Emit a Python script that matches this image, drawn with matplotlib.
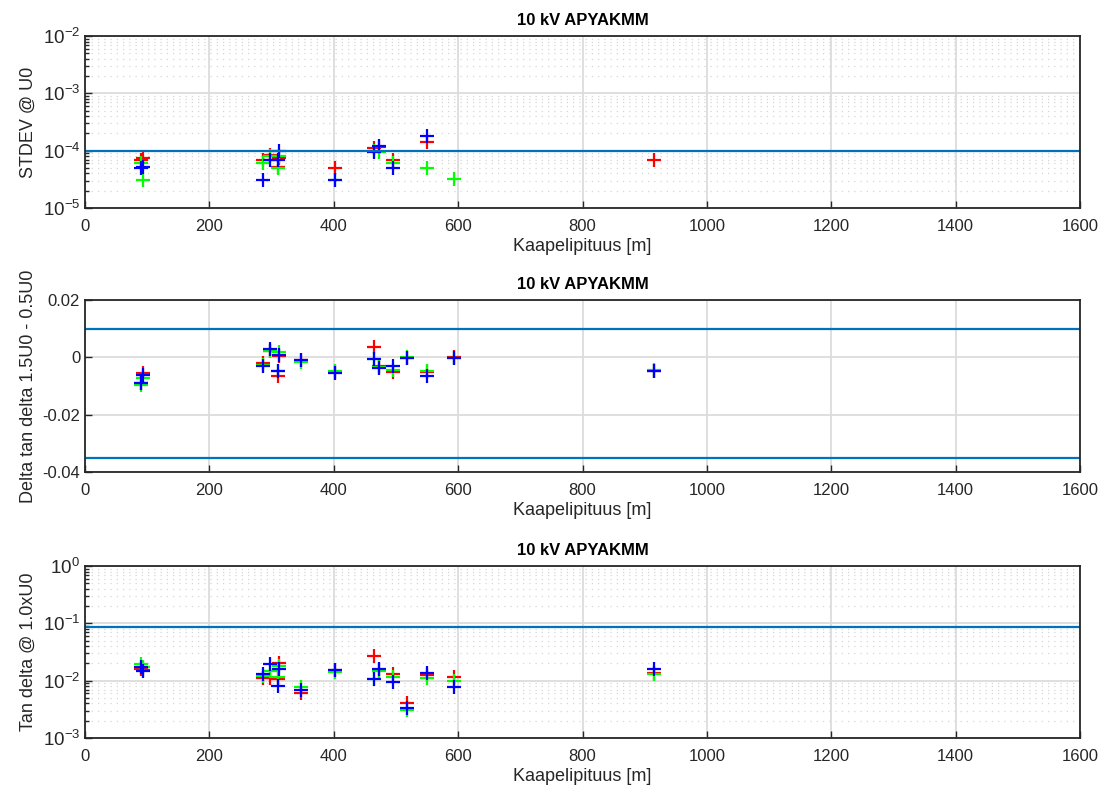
import matplotlib
matplotlib.use('Agg')
import matplotlib.pyplot as plt
import numpy as np

plt.rcParams['font.family'] = ['Liberation Sans', 'DejaVu Sans']
plt.rcParams['mathtext.fontset'] = 'custom'
plt.rcParams['mathtext.rm'] = 'Liberation Sans'

nan = np.nan
length = [90.5, 93.8, 286, 297, 311, 312, 347, 402, 464, 472, 496, 518, 550, 594, 915]

# STDEV @ U0
std_r = [6.9e-5, 7.5e-5, 7.0e-5, 8.4e-5, 5.1e-5, 7.5e-5, nan, 5.05e-5, 1.13e-4, 1.15e-4, 6.9e-5, nan, 1.4e-4, nan, 7.0e-5]
std_g = [6.0e-5, 3.1e-5, 6.0e-5, 8.0e-5, 4.9e-5, 8.1e-5, nan, 3.1e-5, 1.0e-4, 9.6e-5, 6.0e-5, nan, 5.05e-5, 3.15e-5, nan]
std_b = [5.05e-5, 5.2e-5, 3.1e-5, 6.9e-5, 7.0e-5, 1.0e-4, nan, 3.1e-5, 9.6e-5, 1.2e-4, 5.05e-5, nan, 1.82e-4, nan, nan]

# Delta tan delta 1.5U0 - 0.5U0
dtd_r = [-0.0091, -0.0056, -0.0019, 0.0022, -0.0064, 0.0006, -0.0010, -0.0051, 0.0037, -0.0030, -0.0050, -0.0002, -0.0052, 0.0002, -0.0046]
dtd_g = [-0.0098, -0.0071, -0.0025, 0.0022, -0.0048, 0.0019, -0.0015, -0.0048, -0.0005, -0.0033, -0.0044, 0.0002, -0.0048, -0.0001, -0.0044]
dtd_b = [-0.0088, -0.0062, -0.0029, 0.0029, -0.0048, 0.0009, -0.0009, -0.0056, -0.0007, -0.0036, -0.0029, -0.0004, -0.0064, -0.0004, -0.0047]

# Tan delta @ 1.0xU0
td_r = [0.016, 0.0155, 0.0113, 0.011, 0.0107, 0.020, 0.0062, 0.0153, 0.0273, 0.0155, 0.0132, 0.0040, 0.0128, 0.0116, 0.0135]
td_g = [0.0195, 0.017, 0.012, 0.0145, 0.0115, 0.0183, 0.0077, 0.0140, 0.0105, 0.0145, 0.0116, 0.0031, 0.0113, 0.0100, 0.0132]
td_b = [0.0175, 0.0149, 0.013, 0.0193, 0.0081, 0.016, 0.0069, 0.0153, 0.0107, 0.0158, 0.0096, 0.0033, 0.0138, 0.0077, 0.0160]

std_limit = 1e-4
dtd_limits = [0.01, -0.035]
td_limit = 0.088

title = '10 kV APYAKMM'
xlab = 'Kaapelipituus [m]'

fig = plt.figure(figsize=(11.05, 7.93), dpi=100)
L, W, H = 85 / 1105, 995 / 1105, 172 / 793
ax1 = fig.add_axes([L, 1 - 208 / 793, W, H])
ax2 = fig.add_axes([L, 1 - 472 / 793, W, H])
ax3 = fig.add_axes([L, 1 - 738 / 793, W, H])


def style(ax, ylabel, log):
    ax.set_xlim(0, 1600)
    ax.set_xticks(np.arange(0, 1601, 200))
    ax.set_title(title, fontsize=12, fontweight='bold', pad=8)
    ax.set_xlabel(xlab, fontsize=13, labelpad=3, color='#262626')
    ax.set_ylabel(ylabel, fontsize=13, labelpad=4, color='#262626')
    ax.tick_params(which='both', direction='in', labelsize=12, colors='#262626', top=False, right=False)
    ax.tick_params(axis='x', pad=8)
    ax.tick_params(which='major', length=5, width=1)
    ax.grid(True, which='major', color='#dcdcdc', lw=1.3)
    if log:
        ax.tick_params(axis='y', which='major', labelsize=13.5)
        ax.tick_params(which='minor', length=3, width=1)
        ax.grid(True, which='minor', color='#d6d6d6', lw=0.9, ls=(0, (1, 4)))
    for s in ax.spines.values():
        s.set_color('#262626')
        s.set_linewidth(1.3)
    ax.set_axisbelow(True)


pkw = dict(ls='none', marker='+', ms=10, mew=1.6)

ax1.set_yscale('log')
ax1.plot(length, std_r, color='red', **pkw)
ax1.plot(length, std_g, color='lime', **pkw)
ax1.plot(length, std_b, color='blue', **pkw)
ax1.axhline(std_limit, color='#0072BD', lw=1.6)
ax1.set_ylim(1e-5, 1e-2)
style(ax1, 'STDEV @ U0', True)

ax2.plot(length, dtd_r, color='red', **pkw)
ax2.plot(length, dtd_g, color='lime', **pkw)
ax2.plot(length, dtd_b, color='blue', **pkw)
for v in dtd_limits:
    ax2.axhline(v, color='#0072BD', lw=1.6)
ax2.set_ylim(-0.04, 0.02)
ax2.set_yticks([-0.04, -0.02, 0, 0.02])
ax2.set_yticklabels(['-0.04', '-0.02', '0', '0.02'])
style(ax2, 'Delta tan delta 1.5U0 - 0.5U0', False)

ax3.set_yscale('log')
ax3.plot(length, td_r, color='red', **pkw)
ax3.plot(length, td_g, color='lime', **pkw)
ax3.plot(length, td_b, color='blue', **pkw)
ax3.axhline(td_limit, color='#0072BD', lw=1.6)
ax3.set_ylim(1e-3, 1)
style(ax3, 'Tan delta @ 1.0xU0', True)

fig.savefig('out.png', dpi=100)
